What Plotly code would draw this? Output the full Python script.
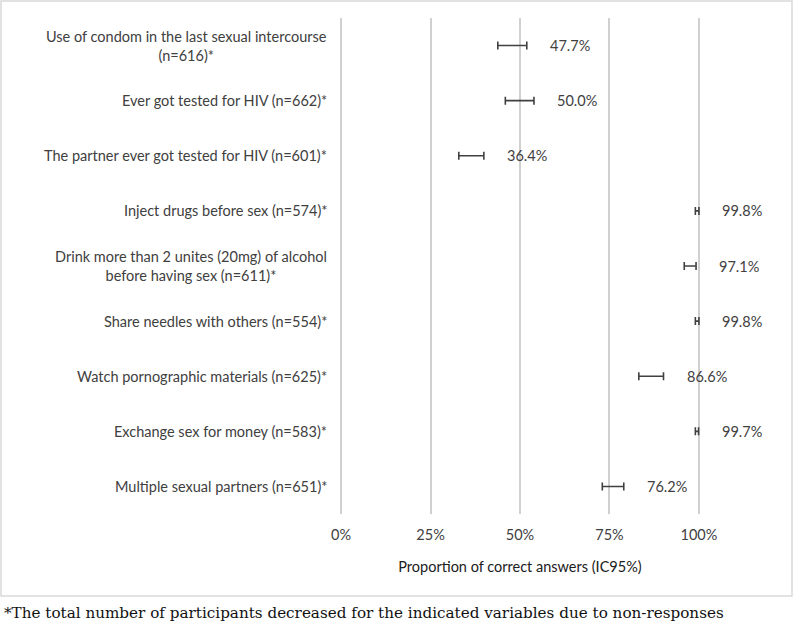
import plotly.graph_objects as go

categories = [
    "Use of condom in the last sexual intercourse<br>(n=616)*",
    "Ever got tested for HIV (n=662)*",
    "The partner ever got tested for HIV (n=601)*",
    "Inject drugs before sex (n=574)*",
    "Drink more than 2 unites (20mg) of alcohol<br>before having sex (n=611)*",
    "Share needles with others (n=554)*",
    "Watch pornographic materials (n=625)*",
    "Exchange sex for money (n=583)*",
    "Multiple sexual partners (n=651)*",
]
values = [47.7, 50.0, 36.4, 99.8, 97.1, 99.8, 86.6, 99.7, 76.2]
ci_low = [43.8, 45.9, 32.9, 99.0, 95.9, 99.0, 83.2, 99.0, 73.0]
ci_high = [51.9, 53.9, 39.9, 100.0, 99.2, 100.0, 90.1, 99.9, 79.0]
x_ticks = [0, 25, 50, 75, 100]
x_tick_labels = ["0%", "25%", "50%", "75%", "100%"]
value_labels = [f"{v:.1f}%" for v in values]

FONT = "Lato"
FS = 14.5
TXT = "#404040"

L, R, T, B = 340, 94, 18, 122
PW = 794 - L - R
PH = 636 - T - B

err_plus = [h - v for h, v in zip(ci_high, values)]
err_minus = [v - l for l, v in zip(ci_low, values)]

fig = go.Figure()
fig.add_trace(go.Scatter(
    x=values, y=list(range(len(categories))),
    mode="markers",
    marker=dict(size=1, color="rgba(0,0,0,0)"),
    error_x=dict(type="data", symmetric=False, array=err_plus, arrayminus=err_minus,
                 color="#404040", thickness=1.6, width=4),
    hoverinfo="skip", showlegend=False,
))

annotations = []
for i, cat in enumerate(categories):
    annotations.append(dict(
        x=0, xref="paper", y=i, yref="y", text=cat, showarrow=False,
        xanchor="right", yanchor="middle", align="center", xshift=-11,
        font=dict(family=FONT, size=FS, color=TXT),
    ))
    annotations.append(dict(
        x=ci_high[i], xref="x", y=i, yref="y", text=value_labels[i], showarrow=False,
        xanchor="left", yanchor="middle", xshift=21,
        font=dict(family=FONT, size=FS, color=TXT),
    ))

annotations.append(dict(
    x=(2 - L) / PW, xref="paper", y=(T + PH - 613) / PH, yref="paper",
    text="*The total number of participants decreased for the indicated variables due to non-responses",
    showarrow=False, xanchor="left", yanchor="middle",
    font=dict(family="DejaVu Serif", size=15.2, color="#111111"),
))

fig.update_layout(
    width=794, height=636,
    margin=dict(l=L, r=R, t=T, b=B),
    paper_bgcolor="white", plot_bgcolor="white",
    font=dict(family=FONT, size=FS, color=TXT),
    xaxis=dict(
        range=[-0.3, 100.3], tickvals=x_ticks, ticktext=x_tick_labels,
        showgrid=True, gridcolor="#d0d0d0", gridwidth=1.5,
        zeroline=False, showline=False, ticks="", ticklabelstandoff=10,
        tickfont=dict(family=FONT, size=FS, color=TXT),
        title=dict(text="Proportion of correct answers (IC95%)", standoff=20,
                   font=dict(family=FONT, size=FS, color="#202020")),
    ),
    yaxis=dict(
        range=[len(categories) - 0.5, -0.5], showticklabels=False,
        showgrid=False, zeroline=False, showline=False,
    ),
    annotations=annotations,
    shapes=[dict(
        type="rect", xref="paper", yref="paper",
        x0=(1 - L) / PW, x1=(792 - L) / PW,
        y0=(T + PH - 596) / PH, y1=(T + PH - 1) / PH,
        line=dict(color="#d9d9d9", width=1.5), fillcolor="rgba(0,0,0,0)",
    )],
)

fig.write_html("out.html")
